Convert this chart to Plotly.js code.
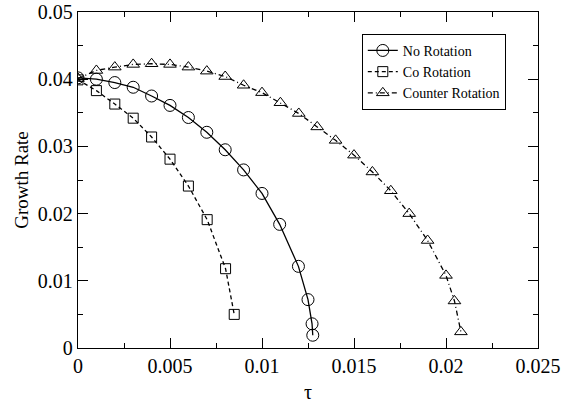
<!DOCTYPE html>
<html>
<head>
<meta charset="utf-8">
<script src="https://cdn.plot.ly/plotly-3.0.1.min.js"></script>
<style>html,body{margin:0;padding:0;background:#fff;}#chart{width:579px;height:405px;}</style>
</head>
<body>
<div id="chart"></div>
<script>
const noRotTau = [0, 0.001, 0.002, 0.003, 0.004, 0.005, 0.006, 0.007, 0.008, 0.009, 0.010, 0.01096, 0.01198, 0.0125, 0.01272, 0.01276];
const noRotRate = [0.0402, 0.0400, 0.0395, 0.0388, 0.0375, 0.0361, 0.0343, 0.0321, 0.0295, 0.0265, 0.0230, 0.0184, 0.01215, 0.0072, 0.0036, 0.0019];

const coRotTau = [0, 0.001, 0.002, 0.003, 0.004, 0.005, 0.006, 0.00702, 0.00802, 0.00849];
const coRotRate = [0.0399, 0.0383, 0.0363, 0.0342, 0.0314, 0.0281, 0.0241, 0.0191, 0.0118, 0.0050];

const counterTau = [0, 0.001, 0.002, 0.003, 0.004, 0.005, 0.006, 0.007, 0.008, 0.009, 0.010, 0.011, 0.012, 0.013, 0.014, 0.015, 0.016, 0.017, 0.018, 0.019, 0.020, 0.02046, 0.02081];
const counterRate = [0.0401, 0.0413, 0.0418, 0.0422, 0.0423, 0.0422, 0.0418, 0.0412, 0.0404, 0.0391, 0.0380, 0.0365, 0.0349, 0.0329, 0.0309, 0.0287, 0.0262, 0.0234, 0.0200, 0.0160, 0.0108, 0.0070, 0.0024];

const xTicks = [0, 0.005, 0.01, 0.015, 0.02, 0.025];
const xTickText = ['0', '0.005', '0.01', '0.015', '0.02', '0.025'];
const yTicks = [0, 0.01, 0.02, 0.03, 0.04, 0.05];
const yTickText = ['0', '0.01', '0.02', '0.03', '0.04', '0.05'];

const font = 'Liberation Serif';

const traces = [
  {x: noRotTau, y: noRotRate, name: 'No Rotation', mode: 'lines+markers',
   line: {color: '#000', width: 1.3, dash: 'solid'},
   marker: {symbol: 'circle-open', size: 12, color: '#000', line: {width: 1}}},
  {x: coRotTau, y: coRotRate, name: 'Co Rotation', mode: 'lines+markers',
   line: {color: '#000', width: 1.3, dash: '4px,3px'},
   marker: {symbol: 'square-open', size: 10, color: '#000', line: {width: 1}}},
  {x: counterTau, y: counterRate, name: 'Counter Rotation', mode: 'lines+markers',
   line: {color: '#000', width: 1.3, dash: '5px,3px,1px,3px'},
   marker: {symbol: 'triangle-up-open', size: 11, color: '#000', line: {width: 1}}}
];

const layout = {
  width: 579, height: 405,
  margin: {l: 78, r: 41, t: 12, b: 57},
  paper_bgcolor: '#fff', plot_bgcolor: '#fff',
  font: {family: font, color: '#000', size: 20},
  showlegend: true,
  xaxis: {
    showgrid: false, zeroline: false, showline: true, linecolor: '#000', linewidth: 1.3,
    mirror: 'allticks', ticks: 'inside', ticklen: 10, tickwidth: 1, tickcolor: '#000',
    tickfont: {family: font, size: 20, color: '#000'},
    range: [0, 0.025], tickmode: 'array', tickvals: xTicks, ticktext: xTickText,
    minor: {ticks: 'inside', ticklen: 5, tickwidth: 1, tickcolor: '#000', dtick: 0.0025, tick0: 0, showgrid: false},
    title: {text: 'τ', font: {family: font, size: 20, color: '#000'}, standoff: 8}
  },
  yaxis: {
    showgrid: false, zeroline: false, showline: true, linecolor: '#000', linewidth: 1.3,
    mirror: 'allticks', ticks: 'inside', ticklen: 10, tickwidth: 1, tickcolor: '#000',
    tickfont: {family: font, size: 20, color: '#000'},
    range: [0, 0.05], tickmode: 'array', tickvals: yTicks, ticktext: yTickText,
    minor: {ticks: 'inside', ticklen: 5, tickwidth: 1, tickcolor: '#000', dtick: 0.005, tick0: 0, showgrid: false},
    title: {text: 'Growth Rate', font: {family: font, size: 19, color: '#000'}, standoff: 4}
  },
  legend: {
    x: 0.93, xanchor: 'right', y: 0.935, yanchor: 'top',
    bgcolor: '#fff', bordercolor: '#000', borderwidth: 1,
    font: {family: font, size: 14, color: '#000'},
    tracegroupgap: 0, itemwidth: 30
  }
};

Plotly.newPlot('chart', traces, layout, {displayModeBar: false, staticPlot: true});
</script>
</body>
</html>
